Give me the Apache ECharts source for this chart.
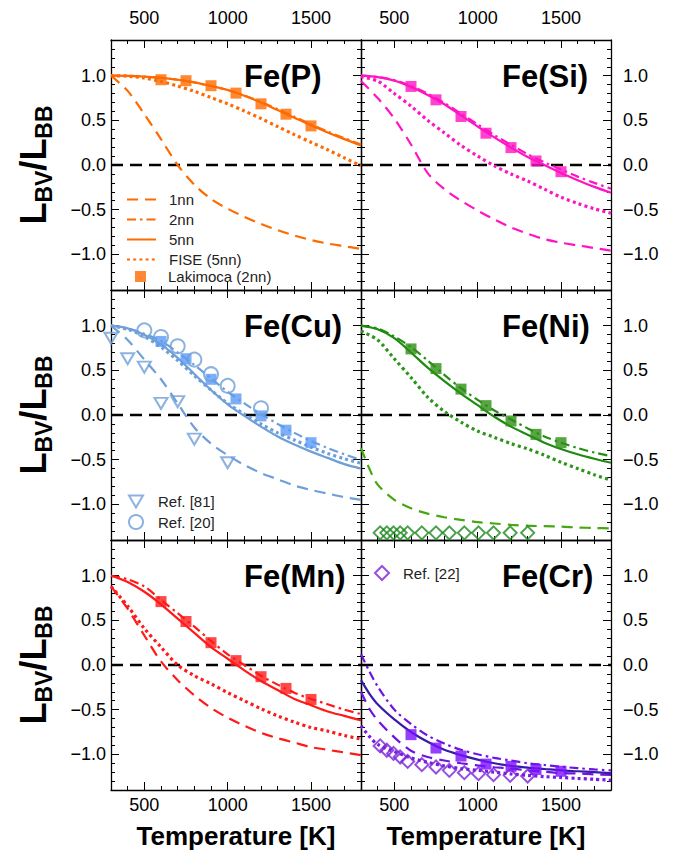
<!DOCTYPE html>
<html><head><meta charset="utf-8">
<script src="https://cdn.jsdelivr.net/npm/echarts@6/dist/echarts.min.js"></script>
<style>html,body{margin:0;padding:0;background:#fff}#c{width:682px;height:858px}</style>
</head><body><div id="c"></div>
<script>
// ---------- data ----------
const T_LINE = [300,400,500,600,700,800,900,1000,1100,1200,1300,1400,1500,1600,1700,1800];
const T_FINE = [300,350,400,500,600,700,800,900,1000,1100,1200,1300,1400,1500,1600,1700,1800];
const T_SQ = [600,750,900,1050,1200,1350,1500];
const T_CU_CIRCLE = [500,600,700,800,900,1000,1200];
const T_CU_TRI = [300,400,500,600,700,800,1000];
const T_DIA = [415,455,495,535,580,665,750,830,920,1005,1095,1195,1300];
const X_TICK_LABELS = [500,1000,1500];
const Y_TICK_LABELS = [-1.0,-0.5,0.0,0.5,1.0];
const ZERO_LINE = 0;
const PANEL_TITLES = ['Fe(P)','Fe(Si)','Fe(Cu)','Fe(Ni)','Fe(Mn)','Fe(Cr)'];
const LINE_NAMES = ['1nn','2nn','5nn','FISE (5nn)'];
const SQ_NAME = 'Lakimoca (2nn)';
const REF_NAMES = ['Ref. [81]','Ref. [20]','Ref. [22]'];

const P_1nn  = [1.0,0.83,0.57,0.29,0.0,-0.22,-0.38,-0.49,-0.58,-0.66,-0.73,-0.79,-0.84,-0.88,-0.91,-0.94];
const P_2nn  = [1.0,0.998,0.99,0.975,0.955,0.925,0.885,0.84,0.78,0.705,0.625,0.54,0.455,0.375,0.3,0.23];
const P_5nn  = [1.0,0.998,0.99,0.975,0.955,0.925,0.885,0.84,0.775,0.7,0.615,0.53,0.445,0.365,0.29,0.22];
const P_FISE = [1.0,0.995,0.975,0.935,0.885,0.825,0.755,0.685,0.605,0.52,0.43,0.34,0.255,0.17,0.08,-0.01];
const P_SQ   = [0.955,0.944,0.888,0.805,0.685,0.569,0.438];

const Si_1nn  = [0.94,0.75,0.52,0.23,-0.09,-0.27,-0.4,-0.51,-0.61,-0.7,-0.77,-0.83,-0.87,-0.9,-0.93,-0.96];
const Si_2nn  = [1.0,0.985,0.95,0.885,0.8,0.695,0.575,0.455,0.335,0.225,0.12,0.03,-0.05,-0.13,-0.2,-0.265];
const Si_5nn  = [1.0,0.985,0.945,0.875,0.785,0.68,0.555,0.43,0.31,0.195,0.09,0.0,-0.09,-0.17,-0.245,-0.31];
const Si_FISE = [0.99,0.94,0.8,0.66,0.5,0.36,0.22,0.1,-0.01,-0.1,-0.18,-0.27,-0.36,-0.43,-0.49,-0.54];
const Si_SQ   = [0.88,0.73,0.543,0.356,0.195,0.045,-0.075];

const Cu_1nn  = [1.0,0.84,0.62,0.4,0.13,-0.14,-0.32,-0.45,-0.56,-0.65,-0.72,-0.79,-0.84,-0.88,-0.92,-0.95];
const Cu_2nn  = [1.0,0.97,0.91,0.83,0.7,0.56,0.41,0.26,0.13,0.01,-0.1,-0.2,-0.29,-0.37,-0.44,-0.505];
const Cu_5nn  = [1.0,0.97,0.9,0.79,0.64,0.46,0.28,0.12,-0.01,-0.13,-0.24,-0.33,-0.41,-0.48,-0.55,-0.6];
const Cu_FISE = [1.0,0.96,0.88,0.76,0.61,0.44,0.28,0.13,0.01,-0.1,-0.2,-0.28,-0.36,-0.43,-0.49,-0.54];
const Cu_SQ   = [0.824,0.63,0.40,0.18,-0.01,-0.17,-0.31];
const Cu_CIRCLE = [0.948,0.873,0.77,0.62,0.457,0.326,0.075];
const Cu_TRI    = [0.86,0.63,0.536,0.13,0.15,-0.27,-0.535];

const Ni_1nn  = [-0.37,-0.6,-0.78,-0.95,-1.045,-1.105,-1.145,-1.175,-1.2,-1.215,-1.23,-1.24,-1.245,-1.25,-1.26,-1.265,-1.27];
const Ni_2nn  = [1.0,0.97,0.88,0.76,0.61,0.45,0.3,0.17,0.05,-0.05,-0.15,-0.24,-0.31,-0.37,-0.42,-0.46];
const Ni_5nn  = [1.0,0.96,0.86,0.7,0.53,0.38,0.24,0.11,-0.02,-0.13,-0.22,-0.31,-0.38,-0.44,-0.49,-0.535];
const Ni_FISE = [0.94,0.84,0.63,0.42,0.2,0.04,-0.08,-0.18,-0.25,-0.32,-0.38,-0.45,-0.53,-0.6,-0.67,-0.73];
const Ni_SQ   = [0.74,0.52,0.29,0.105,-0.067,-0.217,-0.31];
const Ni_DIA  = [-1.32,-1.32,-1.32,-1.32,-1.32,-1.32,-1.32,-1.32,-1.32,-1.32,-1.32,-1.32,-1.32];

const Mn_1nn  = [0.88,0.63,0.33,0.04,-0.17,-0.34,-0.48,-0.59,-0.68,-0.76,-0.82,-0.87,-0.92,-0.95,-0.98,-1.01];
const Mn_2nn  = [1.0,0.96,0.88,0.73,0.58,0.43,0.27,0.12,0.0,-0.12,-0.22,-0.31,-0.38,-0.44,-0.5,-0.55];
const Mn_5nn  = [1.0,0.93,0.82,0.68,0.52,0.36,0.2,0.07,-0.06,-0.18,-0.28,-0.38,-0.45,-0.52,-0.57,-0.62];
const Mn_FISE = [0.88,0.66,0.41,0.2,0.0,-0.12,-0.21,-0.31,-0.4,-0.49,-0.57,-0.64,-0.7,-0.74,-0.79,-0.83];
const Mn_SQ   = [0.71,0.487,0.25,0.049,-0.131,-0.262,-0.386];

const Cr_1nn  = [-0.3,-0.49,-0.62,-0.81,-0.96,-1.03,-1.07,-1.1,-1.125,-1.145,-1.16,-1.18,-1.195,-1.21,-1.215,-1.225,-1.23];
const Cr_2nn  = [0.12,-0.07,-0.24,-0.5,-0.66,-0.79,-0.88,-0.95,-1.0,-1.04,-1.07,-1.1,-1.12,-1.14,-1.155,-1.17,-1.18];
const Cr_5nn  = [-0.17,-0.32,-0.44,-0.61,-0.75,-0.86,-0.95,-1.01,-1.06,-1.1,-1.13,-1.15,-1.165,-1.18,-1.19,-1.2,-1.21];
const Cr_FISE = [-0.68,-0.8,-0.89,-0.97,-1.04,-1.09,-1.13,-1.16,-1.18,-1.2,-1.22,-1.235,-1.25,-1.26,-1.27,-1.28,-1.29];
const Cr_SQ   = [-0.78,-0.93,-1.02,-1.11,-1.135,-1.17,-1.19];
const Cr_DIA  = [-0.906,-0.955,-0.99,-1.03,-1.08,-1.116,-1.142,-1.18,-1.206,-1.217,-1.228,-1.236,-1.243];

// ---------- layout / style ----------
const FONT = "'Liberation Sans', Arial, Helvetica, sans-serif";
const GRID_LEFT = [111, 361], GRID_TOP = [40, 290, 540], GW = 250, GH = 250;
const TITLE_X = [244, 502];
const DOWN_TRIANGLE = 'path://M0,0L14,0L7,12Z';
const zip = (t, v) => t.map((x, i) => [x, v[i]]);

const PANELS = [
  {key:'P',  colors:['#FF6A00','#FF6A00','#FF6A00','#FF6A00','#FF6A00'],
   curves:[[T_LINE,P_1nn],[T_LINE,P_2nn],[T_LINE,P_5nn],[T_LINE,P_FISE]], sq:P_SQ},
  {key:'Si', colors:['#FF14C4','#FF14C4','#FF14C4','#FF14C4','#FF14C4'],
   curves:[[T_LINE,Si_1nn],[T_LINE,Si_2nn],[T_LINE,Si_5nn],[T_LINE,Si_FISE]], sq:Si_SQ},
  {key:'Cu', colors:['#6F9FD8','#6F9FD8','#6F9FD8','#6F9FD8','#5B9BF5'],
   curves:[[T_LINE,Cu_1nn],[T_LINE,Cu_2nn],[T_LINE,Cu_5nn],[T_LINE,Cu_FISE]], sq:Cu_SQ},
  {key:'Ni', colors:['#45A80F','#238F12','#1E8A10','#2A9618','#2E8E14'],
   curves:[[T_FINE,Ni_1nn],[T_LINE,Ni_2nn],[T_LINE,Ni_5nn],[T_LINE,Ni_FISE]], sq:Ni_SQ},
  {key:'Mn', colors:['#FF1A1A','#FF1A1A','#FF1A1A','#FF1A1A','#FF1A1A'],
   curves:[[T_LINE,Mn_1nn],[T_LINE,Mn_2nn],[T_LINE,Mn_5nn],[T_LINE,Mn_FISE]], sq:Mn_SQ},
  {key:'Cr', colors:['#7012E0','#7012E0','#3A1AA8','#7A1AE6','#7A10FF'],
   curves:[[T_FINE,Cr_1nn],[T_FINE,Cr_2nn],[T_FINE,Cr_5nn],[T_FINE,Cr_FISE]], sq:Cr_SQ}
];
const LINE_TYPES = [
  {type:[11,7], width:2.2},
  {type:[9,4,2.5,4], width:2.2},
  {type:'solid', width:2.2},
  {type:[3,3.2], width:3.2}
];

const yFmt = v => (v < 0 ? '\u2212' : '') + Math.abs(v).toFixed(1);
const xFmt = v => String(Math.round(v));

function makeX(p, pos, long, showLab) {
  const ax = {type:'value', gridIndex:p, position:pos, min:300, max:1800, interval:100,
    axisLine:{show:!long, onZero:false, lineStyle:{color:'#000', width:1.3}},
    axisTick:{show:true, inside:true, length: long ? 8 : 4, lineStyle:{color:'#000', width:1}},
    axisLabel:{show:showLab, customValues:X_TICK_LABELS, formatter:xFmt, margin: pos === 'top' ? 13 : 6,
      fontSize:18, fontFamily:FONT, color:'#000'},
    splitLine:{show:false}, minorTick:{show:false}};
  if (long) ax.axisTick.customValues = X_TICK_LABELS;
  return ax;
}
function makeY(p, pos, long, showLab) {
  const ax = {type:'value', gridIndex:p, position:pos, min:-1.4, max:1.4, interval:0.1,
    axisLine:{show:!long, onZero:false, lineStyle:{color:'#000', width:1.3}},
    axisTick:{show:true, inside:true, length: long ? 8 : 4, lineStyle:{color:'#000', width:1}},
    axisLabel:{show:showLab, customValues:Y_TICK_LABELS, formatter:yFmt, margin: pos === 'left' ? 5 : 12,
      fontSize:18, fontFamily:FONT, color:'#000'},
    splitLine:{show:false}, minorTick:{show:false}};
  if (long) ax.axisTick.customValues = Y_TICK_LABELS;
  return ax;
}

const grids = [], xAxes = [], yAxes = [], series = [], graphic = [];
PANELS.forEach((pn, p) => {
  const col = p % 2, row = Math.floor(p / 2);
  grids.push({left:GRID_LEFT[col], top:GRID_TOP[row], width:GW, height:GH, containLabel:false, outerBoundsMode:'none'});
  ['bottom','top'].forEach(pos => {
    const lab = (pos === 'bottom' && row === 2) || (pos === 'top' && row === 0);
    xAxes.push(makeX(p, pos, false, lab));
    xAxes.push(makeX(p, pos, true, false));
  });
  ['left','right'].forEach(pos => {
    const lab = (pos === 'left' && col === 0) || (pos === 'right' && col === 1);
    yAxes.push(makeY(p, pos, false, lab));
    yAxes.push(makeY(p, pos, true, false));
  });
  const xi = p * 4, yi = p * 4;
  pn.curves.forEach((c, k) => {
    const s = {type:'line', name: p === 0 ? LINE_NAMES[k] : pn.key + ' ' + LINE_NAMES[k],
      xAxisIndex:xi, yAxisIndex:yi, data:zip(c[0], c[1]), symbol:'none', showSymbol:false,
      smooth:0.3, z:3,
      lineStyle:{color:pn.colors[k], width:LINE_TYPES[k].width, type:LINE_TYPES[k].type, cap:'butt'},
      itemStyle:{color:pn.colors[k]}};
    if (k === 2) {
      s.markLine = {silent:true, symbol:['none','none'], label:{show:false}, z:2,
        lineStyle:{color:'#000', type:[12,7], width:2.4}, data:[{yAxis:ZERO_LINE}]};
    }
    series.push(s);
  });
  series.push({type:'scatter', name: p === 0 ? SQ_NAME : pn.key + ' ' + SQ_NAME,
    xAxisIndex:xi, yAxisIndex:yi, data:zip(T_SQ, pn.sq), symbol:'rect', symbolSize:11, z:5,
    itemStyle:{color:pn.colors[4]}});
  graphic.push({type:'text', x:TITLE_X[col], y:GRID_TOP[row] + 36,
    style:{text:PANEL_TITLES[p], fontSize:31, fontWeight:'bold', fontFamily:FONT, fill:'#000', verticalAlign:'middle'}});
});

// reference data markers
series.push({type:'scatter', name:REF_NAMES[0], xAxisIndex:8, yAxisIndex:8, data:zip(T_CU_TRI, Cu_TRI),
  symbol:DOWN_TRIANGLE, symbolSize:[13,11], z:6,
  itemStyle:{color:'rgba(255,255,255,0)', borderColor:'#6F9FD8', borderWidth:2}});
series.push({type:'scatter', name:REF_NAMES[1], xAxisIndex:8, yAxisIndex:8, data:zip(T_CU_CIRCLE, Cu_CIRCLE),
  symbol:'circle', symbolSize:14, z:6,
  itemStyle:{color:'rgba(255,255,255,0)', borderColor:'#6F9FD8', borderWidth:2}});
series.push({type:'scatter', name:REF_NAMES[2], xAxisIndex:20, yAxisIndex:20, data:zip(T_DIA, Cr_DIA),
  symbol:'diamond', symbolSize:13, z:6,
  itemStyle:{color:'rgba(255,255,255,0)', borderColor:'#7A22D8', borderWidth:2}});
series.push({type:'scatter', name:'Ni ' + REF_NAMES[2], xAxisIndex:12, yAxisIndex:12, data:zip(T_DIA, Ni_DIA),
  symbol:'diamond', symbolSize:13, z:6,
  itemStyle:{color:'rgba(255,255,255,0)', borderColor:'#1E8A1E', borderWidth:2}});

// axis titles
const yTitle = {
  text:'{m|L}{s|BV}{m|/L}{s|BB}',
  rich:{
    m:{fontSize:36, fontWeight:'bold', fontFamily:FONT, lineHeight:40, fill:'#000'},
    s:{fontSize:23, fontWeight:'bold', fontFamily:FONT, lineHeight:28, padding:[22,0,0,0], fill:'#000'}
  },
  align:'center', verticalAlign:'middle', fill:'#000'
};
GRID_TOP.forEach(t => {
  graphic.push({type:'text', x:33, y:t + GH / 2, rotation:Math.PI / 2, style:Object.assign({}, yTitle)});
});
GRID_LEFT.forEach(l => {
  graphic.push({type:'text', x:l + GW / 2, y:836,
    style:{text:'Temperature [K]', fontSize:26, fontWeight:'bold', fontFamily:FONT, fill:'#000', align:'center', verticalAlign:'middle'}});
});

const legendText = (pad) => ({fontSize:15, fontFamily:FONT, color:'#222', padding:[0,0,0,pad]});
const legends = [
  {data:LINE_NAMES, orient:'vertical', left:126, top:192, itemWidth:29, itemHeight:14, itemGap:5,
   padding:0, selectedMode:false, itemStyle:{opacity:0}, textStyle:legendText(8)},
  {data:[SQ_NAME], orient:'vertical', left:135, top:269, itemWidth:11, itemHeight:11, itemGap:5,
   padding:0, selectedMode:false, textStyle:legendText(17)},
  {data:[REF_NAMES[0], REF_NAMES[1]], orient:'vertical', left:128, top:494, itemWidth:14, itemHeight:14, itemGap:5,
   padding:0, selectedMode:false, textStyle:legendText(10)},
  {data:[REF_NAMES[2]], orient:'vertical', left:374, top:565, itemWidth:14, itemHeight:14, itemGap:5,
   padding:0, selectedMode:false, textStyle:legendText(9)}
];

const chart = echarts.init(document.getElementById('c'), null, {renderer:'svg'});
chart.setOption({
  animation:false,
  backgroundColor:'#fff',
  grid:grids, xAxis:xAxes, yAxis:yAxes, series:series, legend:legends, graphic:graphic
});
</script>
</body></html>
